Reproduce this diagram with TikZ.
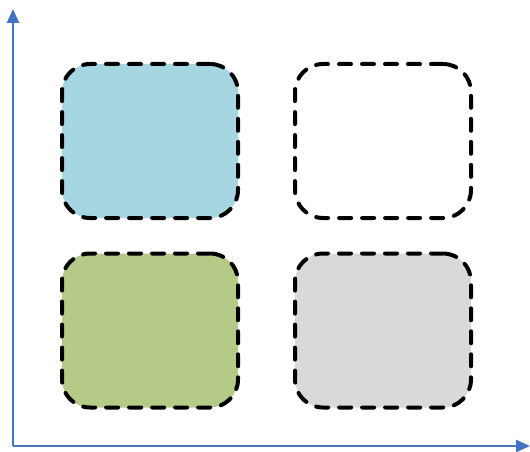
\documentclass[tikz,border=0pt]{standalone}
\usetikzlibrary{arrows.meta}
\definecolor{axisblue}{HTML}{4472C4}
\definecolor{qblue}{HTML}{A6D6E2}
\definecolor{qgreen}{HTML}{B6CA87}
\definecolor{qgrey}{HTML}{D9D9D9}
\tikzset{
  quad/.style={draw=black, line width=4pt, dash pattern=on 12pt off 11pt, line cap=round, rounded corners=28pt, minimum width=176pt, minimum height=154pt, inner sep=0pt},
  axis/.style={draw=axisblue, line width=2.6pt, -{Triangle[length=14pt,width=12pt]}}
}
\begin{document}
\begin{tikzpicture}[x=1pt,y=-1pt]
\useasboundingbox (0,0) rectangle (530,452);
\node[quad, fill=qblue] (tl) at (150,141) {};
\node[quad, fill=white] (tr) at (383,141) {};
\node[quad, fill=qgreen] (bl) at (150,330.5) {};
\node[quad, fill=qgrey] (br) at (383,330.5) {};
\coordinate (o) at (13,446);
\coordinate (ytip) at (13,9);
\coordinate (xtip) at (530,446);
\draw[axis] (o) -- (ytip);
\draw[axis] (o) -- (xtip);
\end{tikzpicture}
\end{document}
